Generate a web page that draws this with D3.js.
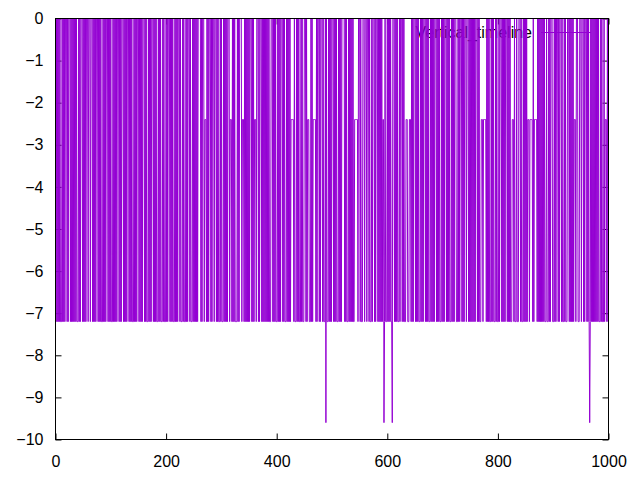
<!DOCTYPE html>
<html><head><meta charset="utf-8">
<script src="https://cdn.jsdelivr.net/npm/d3@7"></script>
<style>body{margin:0;background:#fff}</style>
</head><body>
<svg id="c" width="640" height="480"></svg>
<script>
// Series name shown in the key
const seriesName = "Vertical_timeline";
// Value levels used by the series
const levelValues = [0, -2.4, -4.8, -7.2, -9.6];
// One code per point (index into levelValues), points 0..999, 50 per row
const levelCodes = [
 "03030303033303030300030300030303030303033303030003",
 "03030300030003000303030300030303033303030300030303",
 "03330303030300030303000303030300030303033303030300",
 "03030303000303033303030300030303033303030333030333",
 "03030003030303330303030003033303033303030003033303",
 "03030303000003030003111303030003030003000303033303",
 "03330303030300031113030303333030300003111303030303",
 "03000303031113000303000303030303030303330003030303",
 "33030303000303033303030303111113033303030333030333",
 "00030311133303031111130300030300030333040333030303",
 "00030303033303030300000303033303030303033111111300",
 "03033300030003000303330300030300030303030311430333",
 "03030303340003030303330300030303331113331113030300",
 "03030303330303030003030303330303030300030303033303",
 "03030003030303330303030003330303000303030003000303",
 "03030303030003030333111311111303030333030303330303",
 "33030003030303000303030333111303330333000303330303",
 "03031113111113031111130303030303030333033303030003",
 "33030300030300030333030333000303030303111300033300",
 "03000303000303034303030303030303033303033303111303"
].join("");
const xTicks = [0, 200, 400, 600, 800, 1000];
const yTicks = [0, -1, -2, -3, -4, -5, -6, -7, -8, -9, -10];

const values = Array.from(levelCodes, c => levelValues[+c]);
const data = values.map((v, i) => [i, v]);

const L = 55.5, R = 608.5, T = 18.5, B = 439.5;
const color = "#9400D3";
const font = "'Liberation Sans', Arial, sans-serif";

const svg = d3.select("#c");
const x = d3.scaleLinear().domain([0, 1000]).range([L, R]);
const y = d3.scaleLinear().domain([-10, 0]).range([B, T]);

function styleAxis(g) {
  g.select(".domain").remove();
  g.selectAll("line").attr("stroke", "#000").attr("stroke-width", 1);
  g.selectAll("text").attr("font-family", font).attr("font-size", 16).attr("fill", "#000");
}
svg.append("g").attr("transform", `translate(${L},0)`)
  .call(d3.axisLeft(y).tickValues(yTicks).tickSize(-6).tickPadding(12).tickFormat(d3.format("d")))
  .call(styleAxis);
svg.append("g").attr("transform", `translate(${R},0)`)
  .call(d3.axisRight(y).tickValues(yTicks).tickSize(-6).tickFormat(""))
  .call(styleAxis);
svg.append("g").attr("transform", `translate(0,${B})`)
  .call(d3.axisBottom(x).tickValues(xTicks).tickSize(-6).tickPadding(16).tickFormat(d3.format("d")))
  .call(styleAxis);
svg.append("g").attr("transform", `translate(0,${T})`)
  .call(d3.axisTop(x).tickValues(xTicks).tickSize(-6).tickFormat(""))
  .call(styleAxis);

// key (drawn before the data, as gnuplot does)
svg.append("text")
  .attr("x", 532).attr("y", 32).attr("dy", "0.35em")
  .attr("text-anchor", "end")
  .attr("font-family", font).attr("font-size", 16).attr("fill", "#000")
  .text(seriesName);
svg.append("line")
  .attr("x1", 541).attr("x2", 591).attr("y1", 32.5).attr("y2", 32.5)
  .attr("stroke", color).attr("stroke-width", 1);

// series line
svg.append("path")
  .datum(data)
  .attr("fill", "none")
  .attr("stroke", color)
  .attr("stroke-width", 1)
  .attr("d", d3.line().x(d => x(d[0])).y(d => y(d[1])));

// border
svg.append("rect")
  .attr("x", L).attr("y", T).attr("width", R - L).attr("height", B - T)
  .attr("fill", "none").attr("stroke", "#000").attr("stroke-width", 1);
</script>
</body></html>
